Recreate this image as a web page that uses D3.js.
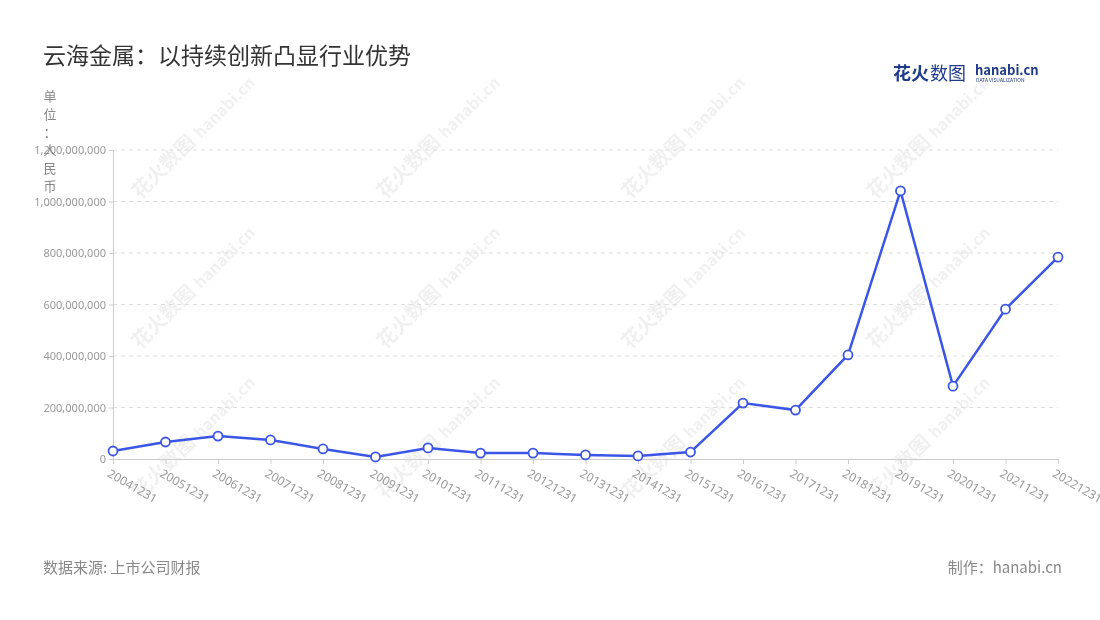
<!DOCTYPE html>
<meta charset="utf-8">
<html>
<head>
<script src="https://cdn.jsdelivr.net/npm/d3@7"></script>
<style>
body{margin:0;background:#fff;font-family:"Noto Sans CJK SC","Noto Sans",sans-serif;}
</style>
</head>
<body>
<svg id="chart" width="1100" height="620"></svg>
<script>
var years = ["20041231","20051231","20061231","20071231","20081231","20091231","20101231","20111231","20121231","20131231","20141231","20151231","20161231","20171231","20181231","20191231","20201231","20211231","20221231"];
var profit = [31e6,66e6,89e6,74e6,39e6,8e6,43e6,23e6,23e6,16e6,12e6,27e6,217e6,190e6,404e6,1041e6,283e6,582e6,784e6];
var yTicks = [0,200e6,400e6,600e6,800e6,1000e6,1200e6];

var svg = d3.select("#chart");
var x = d3.scalePoint().domain(years).range([113,1058]);
var y = d3.scaleLinear().domain([0,1.2e9]).range([459,150]);

// watermark
var wm = svg.append("g").attr("fill","#000").attr("opacity",0.06);
[[140,200],[385,200],[630,200],[875,200],[140,350],[385,350],[630,350],[875,350],[140,500],[385,500],[630,500],[875,500]].forEach(function(p){
  var g = wm.append("g").attr("transform","translate("+p[0]+","+p[1]+") rotate(-45)");
  g.append("text").attr("font-size",20).attr("font-weight","bold").text("花火数图");
  g.append("text").attr("x",86).attr("font-size",16).attr("font-weight","bold").text("hanabi.cn");
});

svg.append("text").attr("x",43).attr("y",64).attr("font-size",23).attr("fill","#333").text("云海金属：以持续创新凸显行业优势");

// logo
svg.append("text").attr("x",893).attr("y",80).attr("font-size",18).attr("font-weight","bold").attr("fill","#1e3a8a").text("花火");
svg.append("text").attr("x",930).attr("y",80).attr("font-size",18).attr("fill","#1e3a8a").text("数图");
svg.append("text").attr("x",975).attr("y",75).attr("font-size",13).attr("font-weight","bold").attr("fill","#1e3a8a").text("hanabi.cn");
svg.append("text").attr("x",976).attr("y",82).attr("font-size",5).attr("fill","#1e3a8a").text("DATA VISUALIZATION");

// grid
svg.append("g").selectAll("line").data(yTicks.slice(1)).join("line")
  .attr("x1",113).attr("x2",1058).attr("y1",y).attr("y2",y)
  .attr("stroke","#ddd").attr("stroke-dasharray","4,4");

var ya = svg.append("g").attr("transform","translate(113,0)")
  .call(d3.axisLeft(y).tickValues(yTicks).tickFormat(d3.format(",")).tickSize(4));
ya.select(".domain").attr("stroke","#ccc");
ya.selectAll("line").attr("stroke","#ccc");
ya.selectAll("text").attr("fill","#999").attr("font-size",11).attr("font-family","Noto Sans");

var xa = svg.append("g").attr("transform","translate(0,459)")
  .call(d3.axisBottom(x).tickSize(5));
xa.select(".domain").attr("stroke","#ccc");
xa.selectAll("line").attr("stroke","#ccc");
xa.selectAll("text").attr("fill","#999").attr("font-size",12).attr("font-family","Noto Sans")
  .attr("text-anchor","start").attr("dy",0).attr("transform","translate(-3,10) rotate(30)");

// unit label
"单位：人民币".split("").forEach(function(c,i){
  svg.append("text").attr("x",50).attr("y",101+i*18).attr("text-anchor","middle")
    .attr("font-size",13).attr("fill","#888").text(c);
});

var line = d3.line().x(function(d,i){return x(years[i]);}).y(function(d){return y(d);});
svg.append("path").datum(profit).attr("d",line).attr("fill","none").attr("stroke","#3b55e6").attr("stroke-width",2.5);
svg.append("g").selectAll("circle").data(profit).join("circle")
  .attr("cx",function(d,i){return x(years[i]);}).attr("cy",y).attr("r",4.5)
  .attr("fill","#fff").attr("stroke","#3b55e6").attr("stroke-width",1.8);

svg.append("text").attr("x",43).attr("y",573).attr("font-size",15).attr("fill","#888").text("数据来源: 上市公司财报");
svg.append("text").attr("x",1062).attr("y",573).attr("text-anchor","end").attr("font-size",15).attr("fill","#888").text("制作：hanabi.cn");
</script>
</body>
</html>
